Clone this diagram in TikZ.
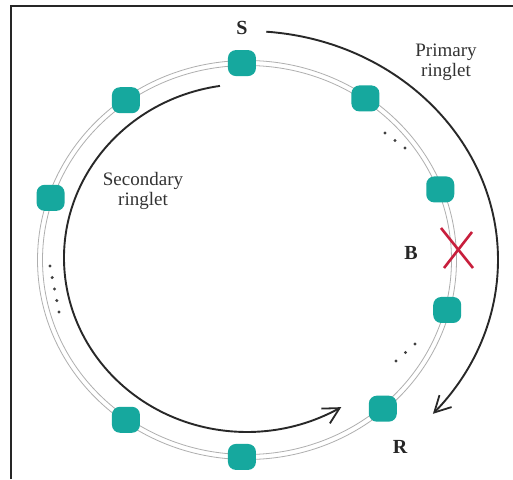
\documentclass[tikz,border=0pt]{standalone}
\usepackage{fontspec}
\setmainfont{Liberation Serif}
\usetikzlibrary{arrows.meta,bending,calc}
\definecolor{nodeteal}{RGB}{22,168,158}
\definecolor{ringgray}{RGB}{175,175,175}
\definecolor{xred}{RGB}{200,30,60}
\definecolor{arcgray}{RGB}{40,40,40}
\tikzset{
  station/.style={draw=none, fill=nodeteal, rounded corners=8pt, minimum width=28pt, minimum height=26pt, inner sep=0pt},
  ringline/.style={draw=ringgray, line width=0.8pt},
  ringarc/.style={draw=arcgray, line width=1.9pt, -{Straight Barb[length=16pt,width=17pt,line width=1.8pt,flex]}},
  lbl/.style={font=\fontsize{19}{20}\selectfont, align=center, text=black!80, inner sep=0pt},
  bold/.style={font=\fontsize{20}{22}\selectfont\bfseries, text=black!85, inner sep=0pt},
  dot/.style={fill=black!75},
  cross/.style={draw=xred, line width=2.6pt}
}
\begin{document}
\begin{tikzpicture}[x=1pt,y=-1pt]
\useasboundingbox (0,0) rectangle (513,479);
\fill[white] (0,0) rectangle (513,479);
% frame
\draw[line width=1.6pt, black!85] (11,479) -- (11,6) -- (513,6);
% ring
\coordinate (C) at (247,260);
\draw[ringline] (C) ellipse [x radius=204.5, y radius=194.5];
\draw[ringline] (C) ellipse [x radius=209.5, y radius=199.5];
% stations
\foreach \nm/\ang in {n1/91.4, n2/125.8, n3/161.6, n4/234.2, n5/268.6, n6/311, n7/345.3, n8/21, n9/55.1}{
  \node[station] (\nm) at ($(C)+(-\ang:207 and 197)$) {};
}
% break
\coordinate (X) at (457,248);
\draw[cross] ($(X)+(-16,-20)$) -- ($(X)+(16,20)$);
\draw[cross] ($(X)+(15,-16)$) -- ($(X)+(-13,20)$);
% dots
\foreach \p in {(385,133),(395,140.5),(405,148),(396,361),(405.5,352.5),(415,344),(50,266),(52.2,277.5),(54.5,289),(56.8,300.5),(59,312)}{
  \fill[dot] \p circle[radius=1.7];
}
% arrows
\coordinate (ps) at ($(C)+(-85.6:251 and 229)$);
\draw[ringarc] (ps) arc[start angle=-85.6, end angle=42.2, x radius=251, y radius=229];
\coordinate (C2) at (247,258);
\coordinate (ss) at ($(C2)+(-98.5:183 and 174)$);
\draw[ringarc] (ss) arc[start angle=-98.5, end angle=-301, x radius=183, y radius=174];
% labels
\node[bold] (S) at (242,28) {S};
\node[bold] (R) at (400,447) {R};
\node[bold] (B) at (411,253) {B};
\node[lbl] (prim) at (446,62) {Primary\\ringlet};
\node[lbl] (sec) at (143,191) {Secondary\\ringlet};
\end{tikzpicture}
\end{document}
